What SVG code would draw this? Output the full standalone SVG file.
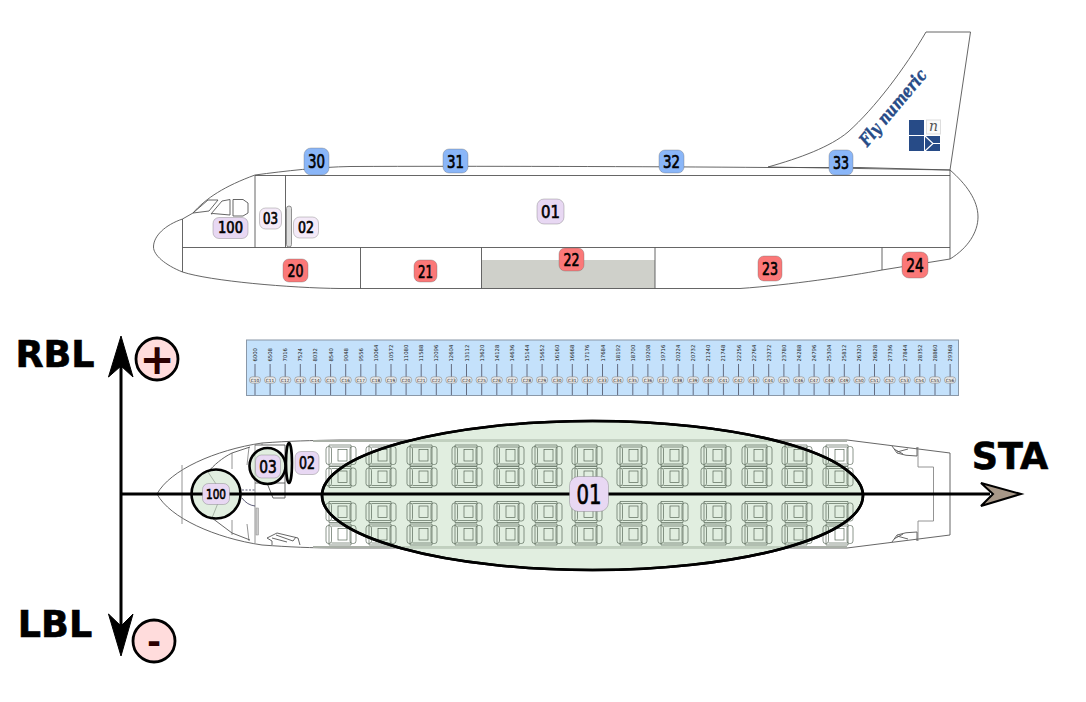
<svg xmlns="http://www.w3.org/2000/svg" xmlns:xlink="http://www.w3.org/1999/xlink" width="1086" height="702" viewBox="0 0 1086 702">
<style>
text{font-family:"DejaVu Sans","Liberation Sans",sans-serif;fill:#000;text-anchor:middle}
.ol{fill:none;stroke:#555;stroke-width:.9}
.lt{fill:none;stroke:#888;stroke-width:.9}
.b{stroke-width:.7;stroke-opacity:.5;stroke:#666}
.blue{fill:#8ab6f8}.red{fill:#fb7878}.pur{fill:#e8d8f3}.pale{fill:#f4eaf8}
.bt{stroke:#000;stroke-width:.7}
.zone{fill:#cfe4cd;fill-opacity:.62;stroke:#000;stroke-width:2.600}
.ax{fill:none;stroke:#000;stroke-width:3}
.lbl{font-weight:700;font-size:36.500px;stroke:#000;stroke-width:.6}
.val{font-size:5.300px;fill:#222;text-anchor:start}
.chip{fill:#e8e8e8;stroke:#777;stroke-width:.5}
.ct{font-size:4.300px;fill:#222}
.tk{fill:none;stroke:#445;stroke-width:.75}
.seat{fill:none;stroke:#4f5f4f;stroke-width:.65}
</style>
<defs>
<g id="seat">
<rect class="seat" x="-15" y="-9" width="5.500" height="18" rx="2.500"/>
<rect class="seat" x="9" y="-9" width="6" height="18" rx="2.500"/>
<path class="seat" d="M-12-10.500H10V10.500H-12V-10.500M-9.500-8.500H9M-9.500 8.500H9"/>
<rect class="seat" x="-3" y="-6" width="9" height="11.500"/>
</g>
<g id="chip"><rect class="chip" x="-5.600" y="-3.200" width="11.200" height="6.400" rx="3"/></g>
<g id="row4">
<use href="#seat" y="455.500"/><use href="#seat" y="477"/><use href="#seat" y="512"/><use href="#seat" y="534.500"/>
</g>
</defs>

<g id="side-view">
<path fill="#cfd0ca" d="M481.500 260H655V288.500H481.500Z"/>
<path fill="#fff" stroke="#555" stroke-width=".9" d="M768 167C800 158 830 147 848 132C875 108 905 68 926 32H970.500L950 170Z"/>
<path class="ol" d="M182.500 219C165 225 153.500 236 153.500 247C153.500 255 165 265 182.500 272C210 281 290 288 340 288.500H740C790 285 850 276 882 270L950 259C968 248 978 232 978 217C978 200 966 184 950 170L860 167.500H768C650 166.500 470 166 350 166.500C320 167 285 171 255 175C225 186 206 198 193 213Z"/>
<path class="ol" d="M255 175.500H950M182.500 247.500H950M950 170V259M182.500 219V272M255 175.500V247.500M285.500 175.500V247.500M360.500 247.500V288.500M481.500 247.500V288.500M655 247.500V288.500M882 247.500V270"/>
<path class="ol" d="M193 213L208 200H218L209 211ZM211 214L222 201 230 199.500V215L213 213.500ZM233 199.500H243L248 203V213L243 216H233Z"/>
<rect x="286.500" y="206" width="5" height="41" rx="2.500" fill="#ddd" stroke="#777" stroke-width=".8"/>
<text transform="translate(897.500 111.500) rotate(-50)" style="font-family:'DejaVu Serif','Liberation Serif',serif;font-weight:700;font-style:italic;font-size:17.500px;fill:#274b87;stroke:#274b87;stroke-width:.4" textLength="94" lengthAdjust="spacingAndGlyphs">Fly numeric</text>
<g id="logo" fill="#274b87">
<rect x="909" y="120" width="15" height="15"/>
<rect x="926.500" y="120" width="14" height="14" fill="#fafafa" stroke="#ddd"/>
<text x="933.500" y="131" style="font-family:'DejaVu Serif','Liberation Serif',serif;font-style:italic;font-size:14px;fill:#555">n</text>
<rect x="909" y="136" width="15" height="15"/>
<rect x="925" y="136" width="15" height="15"/>
<path fill="none" stroke="#fff" stroke-width="1.200" d="M925 136L933 143.500 925 151M933 143.500H940"/>
</g>
</g>

<g id="n30"><rect class="b blue" x="304" y="148" width="25" height="27" rx="7"/><text class="bt" x="316.500" y="168" font-size="19" textLength="17" lengthAdjust="spacingAndGlyphs">30</text></g>
<g id="n31"><rect class="b blue" x="443" y="149" width="25" height="24" rx="6"/><text class="bt" x="455.500" y="167.500" font-size="18" textLength="17" lengthAdjust="spacingAndGlyphs">31</text></g>
<g id="n32"><rect class="b blue" x="659" y="150" width="25" height="23" rx="6"/><text class="bt" x="671.500" y="168" font-size="18" textLength="17" lengthAdjust="spacingAndGlyphs">32</text></g>
<g id="n33"><rect class="b blue" x="829" y="150" width="24" height="25" rx="6"/><text class="bt" x="841" y="168.500" font-size="18" textLength="16" lengthAdjust="spacingAndGlyphs">33</text></g>
<g id="n20"><rect class="b red" x="283" y="259" width="25" height="23" rx="6"/><text class="bt" x="295.500" y="277" font-size="17.500" textLength="16" lengthAdjust="spacingAndGlyphs">20</text></g>
<g id="n21"><rect class="b red" x="414" y="260" width="23" height="22" rx="6"/><text class="bt" x="425.500" y="277.500" font-size="17.500" textLength="15" lengthAdjust="spacingAndGlyphs">21</text></g>
<g id="n22"><rect class="b red" x="559" y="248" width="25" height="23" rx="6"/><text class="bt" x="571.500" y="265.500" font-size="17" textLength="16" lengthAdjust="spacingAndGlyphs">22</text></g>
<g id="n23"><rect class="b red" x="758" y="256" width="24" height="25" rx="6"/><text class="bt" x="770" y="274.500" font-size="18" textLength="16" lengthAdjust="spacingAndGlyphs">23</text></g>
<g id="n24"><rect class="b red" x="902" y="252" width="26" height="26" rx="7"/><text class="bt" x="915" y="271.500" font-size="19" textLength="17.500" lengthAdjust="spacingAndGlyphs">24</text></g>
<g id="n01-side"><rect class="b pur" x="537" y="199" width="27" height="25" rx="7"/><text class="bt" x="550.500" y="218" font-size="18.500" textLength="19" lengthAdjust="spacingAndGlyphs">01</text></g>
<g id="n100-side"><rect class="b pur" x="213" y="217.500" width="35" height="21" rx="6"/><text class="bt" x="230.500" y="233" font-size="15.500" textLength="25" lengthAdjust="spacingAndGlyphs">100</text></g>
<g id="n03-side"><rect class="b pale" x="259.500" y="208" width="22" height="21" rx="6"/><text class="bt" x="270.500" y="224" font-size="15" textLength="15" lengthAdjust="spacingAndGlyphs">03</text></g>
<g id="n02-side"><rect class="b pale" x="293.500" y="217" width="25" height="21" rx="6"/><text class="bt" x="306" y="233" font-size="15.500" textLength="16" lengthAdjust="spacingAndGlyphs">02</text></g>

<g id="ruler">
<rect x="246.500" y="340" width="712" height="55.500" fill="#c4e1fb" stroke="#8a98a8" stroke-width="1"/>
<path class="tk" d="M255 364V377M270.100 364V377M285.200 364V377M300.300 364V377M315.400 364V377M330.600 364V377M345.700 364V377M360.800 364V377M375.900 364V377M391 364V377M406.100 364V377M421.200 364V377M436.300 364V377M451.400 364V377M466.500 364V377M481.700 364V377M496.800 364V377M511.900 364V377M527 364V377M542.100 364V377M557.200 364V377M572.300 364V377M587.400 364V377M602.500 364V377M617.600 364V377M632.800 364V377M647.900 364V377M663 364V377M678.100 364V377M693.200 364V377M708.300 364V377M723.400 364V377M738.500 364V377M753.600 364V377M768.700 364V377M783.900 364V377M799 364V377M814.100 364V377M829.200 364V377M844.300 364V377M859.400 364V377M874.500 364V377M889.600 364V377M904.700 364V377M919.800 364V377M935 364V377M950.100 364V377"/>
<path class="tk" d="M255 383V395M270.100 383V395M285.200 383V395M300.300 383V395M315.400 383V395M330.600 383V395M345.700 383V395M360.800 383V395M375.900 383V395M391 383V395M406.100 383V395M421.200 383V395M436.300 383V395M451.400 383V395M466.500 383V395M481.700 383V395M496.800 383V395M511.900 383V395M527 383V395M542.100 383V395M557.200 383V395M572.300 383V395M587.400 383V395M602.500 383V395M617.600 383V395M632.800 383V395M647.900 383V395M663 383V395M678.100 383V395M693.200 383V395M708.300 383V395M723.400 383V395M738.500 383V395M753.600 383V395M768.700 383V395M783.900 383V395M799 383V395M814.100 383V395M829.200 383V395M844.300 383V395M859.400 383V395M874.500 383V395M889.600 383V395M904.700 383V395M919.800 383V395M935 383V395M950.100 383V395"/>
<g class="vals">
<text class="val" transform="translate(257 361.500) rotate(-90)">6000</text>
<text class="val" transform="translate(272.100 361.500) rotate(-90)">6508</text>
<text class="val" transform="translate(287.200 361.500) rotate(-90)">7016</text>
<text class="val" transform="translate(302.300 361.500) rotate(-90)">7524</text>
<text class="val" transform="translate(317.400 361.500) rotate(-90)">8032</text>
<text class="val" transform="translate(332.600 361.500) rotate(-90)">8540</text>
<text class="val" transform="translate(347.700 361.500) rotate(-90)">9048</text>
<text class="val" transform="translate(362.800 361.500) rotate(-90)">9556</text>
<text class="val" transform="translate(377.900 361.500) rotate(-90)">10064</text>
<text class="val" transform="translate(393 361.500) rotate(-90)">10572</text>
<text class="val" transform="translate(408.100 361.500) rotate(-90)">11080</text>
<text class="val" transform="translate(423.200 361.500) rotate(-90)">11588</text>
<text class="val" transform="translate(438.300 361.500) rotate(-90)">12096</text>
<text class="val" transform="translate(453.400 361.500) rotate(-90)">12604</text>
<text class="val" transform="translate(468.500 361.500) rotate(-90)">13112</text>
<text class="val" transform="translate(483.700 361.500) rotate(-90)">13620</text>
<text class="val" transform="translate(498.800 361.500) rotate(-90)">14128</text>
<text class="val" transform="translate(513.900 361.500) rotate(-90)">14636</text>
<text class="val" transform="translate(529 361.500) rotate(-90)">15144</text>
<text class="val" transform="translate(544.100 361.500) rotate(-90)">15652</text>
<text class="val" transform="translate(559.200 361.500) rotate(-90)">16160</text>
<text class="val" transform="translate(574.300 361.500) rotate(-90)">16668</text>
<text class="val" transform="translate(589.400 361.500) rotate(-90)">17176</text>
<text class="val" transform="translate(604.500 361.500) rotate(-90)">17684</text>
<text class="val" transform="translate(619.600 361.500) rotate(-90)">18192</text>
<text class="val" transform="translate(634.800 361.500) rotate(-90)">18700</text>
<text class="val" transform="translate(649.900 361.500) rotate(-90)">19208</text>
<text class="val" transform="translate(665 361.500) rotate(-90)">19716</text>
<text class="val" transform="translate(680.100 361.500) rotate(-90)">20224</text>
<text class="val" transform="translate(695.200 361.500) rotate(-90)">20732</text>
<text class="val" transform="translate(710.300 361.500) rotate(-90)">21240</text>
<text class="val" transform="translate(725.400 361.500) rotate(-90)">21748</text>
<text class="val" transform="translate(740.500 361.500) rotate(-90)">22256</text>
<text class="val" transform="translate(755.600 361.500) rotate(-90)">22764</text>
<text class="val" transform="translate(770.700 361.500) rotate(-90)">23272</text>
<text class="val" transform="translate(785.900 361.500) rotate(-90)">23780</text>
<text class="val" transform="translate(801 361.500) rotate(-90)">24288</text>
<text class="val" transform="translate(816.100 361.500) rotate(-90)">24796</text>
<text class="val" transform="translate(831.200 361.500) rotate(-90)">25304</text>
<text class="val" transform="translate(846.300 361.500) rotate(-90)">25812</text>
<text class="val" transform="translate(861.400 361.500) rotate(-90)">26320</text>
<text class="val" transform="translate(876.500 361.500) rotate(-90)">26828</text>
<text class="val" transform="translate(891.600 361.500) rotate(-90)">27336</text>
<text class="val" transform="translate(906.700 361.500) rotate(-90)">27844</text>
<text class="val" transform="translate(921.800 361.500) rotate(-90)">28352</text>
<text class="val" transform="translate(936.900 361.500) rotate(-90)">28860</text>
<text class="val" transform="translate(952 361.500) rotate(-90)">29368</text>
</g>
<g class="chips">
<use href="#chip" x="255" y="380"/><text class="ct" x="255" y="381.600">C10</text>
<use href="#chip" x="270.100" y="380"/><text class="ct" x="270.100" y="381.600">C11</text>
<use href="#chip" x="285.200" y="380"/><text class="ct" x="285.200" y="381.600">C12</text>
<use href="#chip" x="300.300" y="380"/><text class="ct" x="300.300" y="381.600">C13</text>
<use href="#chip" x="315.400" y="380"/><text class="ct" x="315.400" y="381.600">C14</text>
<use href="#chip" x="330.600" y="380"/><text class="ct" x="330.600" y="381.600">C15</text>
<use href="#chip" x="345.700" y="380"/><text class="ct" x="345.700" y="381.600">C16</text>
<use href="#chip" x="360.800" y="380"/><text class="ct" x="360.800" y="381.600">C17</text>
<use href="#chip" x="375.900" y="380"/><text class="ct" x="375.900" y="381.600">C18</text>
<use href="#chip" x="391" y="380"/><text class="ct" x="391" y="381.600">C19</text>
<use href="#chip" x="406.100" y="380"/><text class="ct" x="406.100" y="381.600">C20</text>
<use href="#chip" x="421.200" y="380"/><text class="ct" x="421.200" y="381.600">C21</text>
<use href="#chip" x="436.300" y="380"/><text class="ct" x="436.300" y="381.600">C22</text>
<use href="#chip" x="451.400" y="380"/><text class="ct" x="451.400" y="381.600">C23</text>
<use href="#chip" x="466.500" y="380"/><text class="ct" x="466.500" y="381.600">C24</text>
<use href="#chip" x="481.700" y="380"/><text class="ct" x="481.700" y="381.600">C25</text>
<use href="#chip" x="496.800" y="380"/><text class="ct" x="496.800" y="381.600">C26</text>
<use href="#chip" x="511.900" y="380"/><text class="ct" x="511.900" y="381.600">C27</text>
<use href="#chip" x="527" y="380"/><text class="ct" x="527" y="381.600">C28</text>
<use href="#chip" x="542.100" y="380"/><text class="ct" x="542.100" y="381.600">C29</text>
<use href="#chip" x="557.200" y="380"/><text class="ct" x="557.200" y="381.600">C30</text>
<use href="#chip" x="572.300" y="380"/><text class="ct" x="572.300" y="381.600">C31</text>
<use href="#chip" x="587.400" y="380"/><text class="ct" x="587.400" y="381.600">C32</text>
<use href="#chip" x="602.500" y="380"/><text class="ct" x="602.500" y="381.600">C33</text>
<use href="#chip" x="617.600" y="380"/><text class="ct" x="617.600" y="381.600">C34</text>
<use href="#chip" x="632.800" y="380"/><text class="ct" x="632.800" y="381.600">C35</text>
<use href="#chip" x="647.900" y="380"/><text class="ct" x="647.900" y="381.600">C36</text>
<use href="#chip" x="663" y="380"/><text class="ct" x="663" y="381.600">C37</text>
<use href="#chip" x="678.100" y="380"/><text class="ct" x="678.100" y="381.600">C38</text>
<use href="#chip" x="693.200" y="380"/><text class="ct" x="693.200" y="381.600">C39</text>
<use href="#chip" x="708.300" y="380"/><text class="ct" x="708.300" y="381.600">C40</text>
<use href="#chip" x="723.400" y="380"/><text class="ct" x="723.400" y="381.600">C41</text>
<use href="#chip" x="738.500" y="380"/><text class="ct" x="738.500" y="381.600">C42</text>
<use href="#chip" x="753.600" y="380"/><text class="ct" x="753.600" y="381.600">C43</text>
<use href="#chip" x="768.700" y="380"/><text class="ct" x="768.700" y="381.600">C44</text>
<use href="#chip" x="783.900" y="380"/><text class="ct" x="783.900" y="381.600">C45</text>
<use href="#chip" x="799" y="380"/><text class="ct" x="799" y="381.600">C46</text>
<use href="#chip" x="814.100" y="380"/><text class="ct" x="814.100" y="381.600">C47</text>
<use href="#chip" x="829.200" y="380"/><text class="ct" x="829.200" y="381.600">C48</text>
<use href="#chip" x="844.300" y="380"/><text class="ct" x="844.300" y="381.600">C49</text>
<use href="#chip" x="859.400" y="380"/><text class="ct" x="859.400" y="381.600">C50</text>
<use href="#chip" x="874.500" y="380"/><text class="ct" x="874.500" y="381.600">C51</text>
<use href="#chip" x="889.600" y="380"/><text class="ct" x="889.600" y="381.600">C52</text>
<use href="#chip" x="904.700" y="380"/><text class="ct" x="904.700" y="381.600">C53</text>
<use href="#chip" x="919.800" y="380"/><text class="ct" x="919.800" y="381.600">C54</text>
<use href="#chip" x="935" y="380"/><text class="ct" x="935" y="381.600">C55</text>
<use href="#chip" x="950.100" y="380"/><text class="ct" x="950.100" y="381.600">C56</text>
</g>
</g>

<g id="plan-view">
<path class="ol" d="M157 494C170 470 215 450 262 443C290 441 310 440.500 340 440H847L950 453V535L847 548H340C310 548 290 547 262 545C215 538 170 518 157 494Z"/>
<path d="M313 441H847M313 547H847" fill="none" stroke="#aab0a8" stroke-width="2.200"/>
<path class="lt" d="M182 465V524M232 453V469M232 520V535M255 445V543M249 447L247 465M249 541L247 524M262 443V445M918 447V467H933.500V521H918V541"/>
<path class="ol" d="M250 447L232 453C222 458 214 465 208 472L222 493 212 518 232 533 250 540M255 445H285V483H255M267 483L273 498H285V483"/>
<rect x="256" y="508" width="2.500" height="27" fill="#ccc" stroke="#888" stroke-width=".5"/>
<path fill="none" stroke="#335" stroke-width=".8" d="M242 490H255" stroke-dasharray="2 1.500"/>
<path fill="none" stroke="#335" stroke-width=".8" d="M242 498Q247 505 255 506"/>
<path class="ol" d="M267 538L277 533 298 538 300 545M272 545V541L267 538M272 538L287 542M276 535L293 541 296 537"/>
<path class="ol" d="M892 446L897 453Q905 456 917 456V447M897 452L908 449M894 449L903 454"/>
<path class="ol" d="M892 542L897 535Q905 532 917 532V541M897 536L908 539M894 539L903 534"/>
</g>

<g id="zones">
<ellipse class="zone" cx="592.500" cy="495.500" rx="270.500" ry="74.500"/>
<circle class="zone" cx="216" cy="494" r="24.500"/>
<circle class="zone" cx="267.500" cy="466" r="18"/>
<ellipse class="zone" cx="289" cy="463" rx="3" ry="20"/>
</g>
<g id="seats">
<use href="#row4" x="341"/><use href="#row4" x="381"/><use href="#row4" x="422"/><use href="#row4" x="467"/><use href="#row4" x="509"/><use href="#row4" x="547"/><use href="#row4" x="587"/><use href="#row4" x="632"/><use href="#row4" x="673"/><use href="#row4" x="716"/><use href="#row4" x="757"/><use href="#row4" x="797"/><use href="#row4" x="838"/>
</g>
<ellipse cx="592.500" cy="495.500" rx="270.500" ry="74.500" fill="none" stroke="#000" stroke-width="2.600"/>

<g id="connectors">
<path class="ax" d="M121 494H990M121 360V630"/>
<path fill="#a89888" stroke="#000" stroke-width="2" d="M1021 494L981 483 993 494 981 506Z"/>
<path fill="#000" stroke="#000" d="M121 336L108.500 377 121 366 133 377Z"/>
<path fill="#000" stroke="#000" d="M121 656L108.500 614 121 626 133 614Z"/>
</g>

<g id="n100-plan"><rect class="b pur" x="202.500" y="483.500" width="27" height="21" rx="6"/><text class="bt" x="216" y="499" font-size="14.500" textLength="20" lengthAdjust="spacingAndGlyphs">100</text></g>
<g id="n03-plan"><rect class="b pur" x="255.500" y="455" width="25" height="23" rx="6"/><text class="bt" x="268" y="472.500" font-size="18" textLength="17.500" lengthAdjust="spacingAndGlyphs">03</text></g>
<g id="n02-plan"><rect class="b pur" x="295" y="451.500" width="24" height="23" rx="6"/><text class="bt" x="307" y="469" font-size="17" textLength="16" lengthAdjust="spacingAndGlyphs">02</text></g>
<g id="n01-plan"><rect class="b pur" x="569.500" y="476.500" width="39" height="35" rx="9"/><text class="bt" x="589" y="503.500" font-size="26" textLength="25" lengthAdjust="spacingAndGlyphs">01</text></g>

<g id="axis-labels">
<text class="lbl" x="55" y="367">RBL</text>
<text class="lbl" x="55" y="637">LBL</text>
<text class="lbl" x="1010" y="469">STA</text>
</g>
<g id="plus"><circle cx="157" cy="359" r="21" fill="#ffdcdc" stroke="#000" stroke-width="2.800"/><text x="157" y="374" font-size="42" font-weight="700" style="fill:#2b0000">+</text></g>
<g id="minus"><circle cx="154" cy="641" r="21" fill="#ffdcdc" stroke="#000" stroke-width="2.800"/><text x="154" y="653" font-size="34" font-weight="700" style="fill:#2b0000">-</text></g>
</svg>
